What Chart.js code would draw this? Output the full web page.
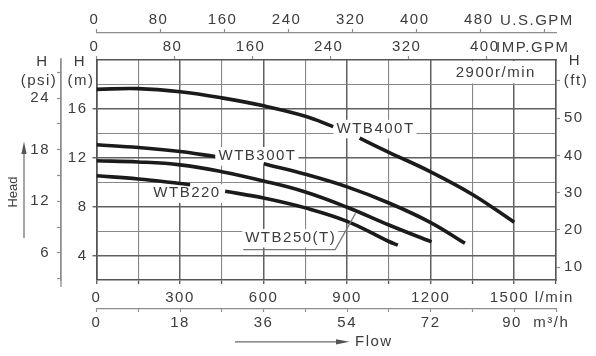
<!DOCTYPE html>
<html>
<head>
<meta charset="utf-8">
<script src="https://cdn.jsdelivr.net/npm/chart.js@4.4.1/dist/chart.umd.min.js"></script>
<style>
html,body{margin:0;padding:0;background:#fff;overflow:hidden;}
canvas{display:block;}
</style>
</head>
<body>
<canvas id="chart" width="596" height="356"></canvas>
<script>
// ---------- data ----------
const wtb400Flow = [0, 150, 300, 450, 600, 750, 850, 900, 945, 1050, 1200, 1350, 1500];
const wtb400Head = [17.6, 17.66, 17.4, 16.9, 16.25, 15.4, 14.55, null, 13.6, 12.45, 10.85, 9.0, 6.73];

const wtb300Flow = [0, 150, 300, 426, 500, 600, 750, 900, 1050, 1200, 1323];
const wtb300Head = [13.06, 12.84, 12.51, 12.1, null, 11.51, 10.65, 9.62, 8.3, 6.7, 5.0];

const wtb250Flow = [0, 150, 300, 450, 600, 750, 900, 1050, 1203];
const wtb250Head = [11.76, 11.66, 11.42, 10.86, 10.1, 9.2, 7.95, 6.5, 5.12];

const wtb220Flow = [0, 150, 300, 336, 400, 462, 600, 750, 900, 1050, 1082];
const wtb220Head = [10.53, 10.27, 9.9, 9.8, null, 9.26, 8.71, 7.9, 6.8, 5.15, 4.85];

const lpmLabels = [0, 300, 600, 900, 1200, 1500];
const m3hLabels = [0, 18, 36, 54, 72, 90];
const usGpmLabels = [0, 80, 160, 240, 320, 400, 480];
const impGpmLabels = [0, 80, 160, 240, 320, 400];
const headMLabels = [4, 8, 12, 16];
const headPsiLabels = [6, 12, 18, 24];
const headFtLabels = [10, 20, 30, 40, 50];

// ---------- annotation anchors (in data units) ----------
const curveLabelAnchors = [
  {text: 'WTB400T', flow: 862, head: 14.37},
  {text: 'WTB300T', flow: 438, head: 12.14},
  {text: 'WTB220', flow: 204, head: 9.09},
  {text: 'WTB250(T)', flow: 534, head: 5.44, underline: true, leaderTo: {flow: 930, head: 7.45}}
];
const rpmAnchor = {text: '2900r/min', flow: 1290, head: 18.98};

// ---------- styles ----------
const FAMILY = '"Liberation Sans", Arial, sans-serif';
const FS = 15;
const SPACING = '1.5px';
const TXT = '#3c3c3c';
const GRID_MINOR = '#878787';
const GRID_MAJOR = '#606060';
const FRAME = '#555555';
const AXIS2 = '#8e8e8e';
const CURVE = '#1b1b1b';
const M_TO_PSI = 1.42233, M_TO_FT = 3.28084;
const FLOW_MAX = 1650, H_MIN = 2, H_MAX = 20;

function pts(fl, hd) { return fl.map((f, i) => ({x: f, y: hd[i]})); }
function lbl(list) { return v => list.includes(v) ? String(v) : ''; }

const spacingPlugin = {
  id: 'spacing',
  beforeInit(c) { c.ctx.letterSpacing = SPACING; },
  beforeLayout(c) { c.ctx.letterSpacing = SPACING; },
  beforeDraw(c) { c.ctx.letterSpacing = SPACING; }
};

const decorPlugin = {
  id: 'decor',
  beforeDatasetsDraw(chart) {
    const {ctx, chartArea: ca, scales: {x, y}} = chart;
    ctx.save();
    ctx.letterSpacing = SPACING;
    ctx.font = FS + 'px ' + FAMILY;
    ctx.fillStyle = '#ffffff';
    for (const a of curveLabelAnchors) {
      const px = x.getPixelForValue(a.flow), py = y.getPixelForValue(a.head);
      const w = ctx.measureText(a.text).width;
      ctx.fillRect(px - 3, py - 9, w + 5, 18.5);
    }
    const rx = x.getPixelForValue(rpmAnchor.flow);
    const yb = y.getPixelForValue(18);
    ctx.fillRect(rx - 22, ca.top + 1, ca.right - 1 - (rx - 22), yb - 1 - (ca.top + 1));
    ctx.restore();
  },
  afterDatasetsDraw(chart) {
    const {ctx, scales: {x, y}} = chart;
    ctx.save();
    ctx.letterSpacing = SPACING;
    ctx.font = FS + 'px ' + FAMILY;
    ctx.fillStyle = TXT;
    ctx.textBaseline = 'middle';
    ctx.textAlign = 'left';
    for (const a of curveLabelAnchors) {
      const px = x.getPixelForValue(a.flow), py = y.getPixelForValue(a.head);
      ctx.fillText(a.text, px, py);
      if (a.underline) {
        const w = ctx.measureText(a.text).width;
        const uy = py + 11.7;
        ctx.strokeStyle = '#7a7a7a';
        ctx.lineWidth = 1.3;
        ctx.beginPath();
        ctx.moveTo(px - 2, uy);
        ctx.lineTo(px + w - 1, uy);
        ctx.lineTo(x.getPixelForValue(a.leaderTo.flow), y.getPixelForValue(a.leaderTo.head));
        ctx.stroke();
      }
    }
    ctx.fillText(rpmAnchor.text, x.getPixelForValue(rpmAnchor.flow), y.getPixelForValue(rpmAnchor.head));
    ctx.restore();
  },
  afterDraw(chart) {
    const {ctx, chartArea: ca, scales} = chart;
    const x = scales.x;
    ctx.save();
    ctx.letterSpacing = SPACING;
    ctx.font = FS + 'px ' + FAMILY;
    ctx.fillStyle = TXT;
    ctx.textBaseline = 'middle';
    // axis titles
    ctx.textAlign = 'center';
    ctx.fillText('H', 80, 61.5);
    ctx.fillText('(m)', 81, 80.5);
    ctx.fillText('H', 42.5, 61.5);
    ctx.fillText('(psi)', 39, 80.5);
    ctx.fillText('H', 575, 61);
    ctx.fillText('(ft)', 576, 80.5);
    ctx.textAlign = 'left';
    ctx.fillText('U.S.GPM', 500, 20.5);
    ctx.fillText('IMP.GPM', 496, 47.5);
    // last bottom labels with units
    const lastL = lpmLabels[lpmLabels.length - 1];
    ctx.fillText(lastL + ' l/min', x.getPixelForValue(lastL) - 24.5, 297.5);
    const xm = scales.xm3;
    const lastM = m3hLabels[m3hLabels.length - 1];
    ctx.fillText(lastM + '  m\u00B3/h', xm.getPixelForValue(lastM) - 12, 323);
    // Flow arrow
    ctx.fillText('Flow', 355, 342);
    ctx.strokeStyle = '#6a6a6a';
    ctx.fillStyle = '#555';
    ctx.lineWidth = 1.2;
    ctx.beginPath(); ctx.moveTo(235, 341.8); ctx.lineTo(340, 341.8); ctx.stroke();
    ctx.beginPath(); ctx.moveTo(349.5, 341.8); ctx.lineTo(336, 339.2); ctx.lineTo(336, 344.4); ctx.closePath(); ctx.fill();
    // Head arrow
    ctx.beginPath(); ctx.moveTo(24, 238); ctx.lineTo(24, 150); ctx.stroke();
    ctx.beginPath(); ctx.moveTo(24, 141.5); ctx.lineTo(21.4, 154); ctx.lineTo(26.6, 154); ctx.closePath(); ctx.fill();
    // psi axis line extension
    ctx.strokeStyle = AXIS2; ctx.lineWidth = 1.3;
    const psx = scales.ypsi.right;
    ctx.beginPath(); ctx.moveTo(psx, ca.top - 2); ctx.lineTo(psx, ca.bottom + 7); ctx.stroke();
    // Head text (rotated)
    ctx.letterSpacing = '0px';
    ctx.fillStyle = TXT;
    ctx.font = '13px ' + FAMILY;
    ctx.translate(13.5, 192);
    ctx.rotate(-Math.PI / 2);
    ctx.textAlign = 'center';
    ctx.fillText('Head', 0, 0);
    ctx.restore();
  }
};

function gridColor(list) { return c => (c.tick && list.includes(c.tick.value)) ? GRID_MAJOR : GRID_MINOR; }
function gridWidth(list) { return c => (c.tick && list.includes(c.tick.value)) ? 1.5 : 1.1; }

const tickFont = {family: FAMILY, size: FS};

new Chart(document.getElementById('chart'), {
  type: 'line',
  data: {
    datasets: [
      {label: 'WTB400T', data: pts(wtb400Flow, wtb400Head)},
      {label: 'WTB300T', data: pts(wtb300Flow, wtb300Head)},
      {label: 'WTB250(T)', data: pts(wtb250Flow, wtb250Head)},
      {label: 'WTB220', data: pts(wtb220Flow, wtb220Head)}
    ].map(d => Object.assign(d, {
      xAxisID: 'x', yAxisID: 'y', borderColor: CURVE, borderWidth: 3.6,
      pointRadius: 0, fill: false, tension: 0.4, spanGaps: false
    }))
  },
  options: {
    responsive: false,
    devicePixelRatio: 1,
    animation: false,
    layout: {padding: 0},
    plugins: {legend: {display: false}, tooltip: {enabled: false}},
    scales: {
      x: {
        type: 'linear', position: 'bottom', weight: 0, min: 0, max: FLOW_MAX,
        ticks: {stepSize: 150, autoSkip: false, maxRotation: 0, padding: 4.5, font: tickFont, color: TXT,
                callback: v => (lpmLabels.includes(v) && v !== lpmLabels[lpmLabels.length - 1]) ? String(v) : ''},
        grid: {color: gridColor(lpmLabels), lineWidth: gridWidth(lpmLabels), drawTicks: true, tickLength: 4, tickColor: FRAME, tickWidth: 1.3},
        border: {color: FRAME, width: 1.6},
        afterFit(s) { s.height = 29; }
      },
      xm3: {
        type: 'linear', position: 'bottom', weight: 1, min: 0, max: FLOW_MAX * 0.06,
        ticks: {stepSize: 9, autoSkip: false, maxRotation: 0, padding: 1.5, font: tickFont, color: TXT,
                callback: v => (m3hLabels.includes(v) && v !== m3hLabels[m3hLabels.length - 1]) ? String(v) : ''},
        grid: {drawOnChartArea: false, drawTicks: true, tickLength: 3, tickColor: AXIS2, tickWidth: 1.2},
        border: {color: AXIS2, width: 1.3},
        afterFit(s) { s.height = 47; }
      },
      ximp: {
        type: 'linear', position: 'top', weight: 0, min: 0, max: 471,
        ticks: {stepSize: 80, includeBounds: false, autoSkip: false, maxRotation: 0, padding: 0, labelOffset: -2,
                font: tickFont, color: TXT, callback: lbl(impGpmLabels)},
        grid: {drawOnChartArea: false, drawTicks: true, tickLength: 4, tickColor: AXIS2, tickWidth: 1.2},
        border: {color: FRAME, width: 1.6},
        afterFit(s) { s.height = 27; }
      },
      xus: {
        type: 'linear', position: 'top', weight: 1, min: 0, max: 574,
        ticks: {stepSize: 80, includeBounds: false, autoSkip: false, maxRotation: 0, padding: 0, labelOffset: -2,
                font: tickFont, color: TXT, callback: lbl(usGpmLabels)},
        grid: {drawOnChartArea: false, drawTicks: true, tickLength: 4, tickColor: AXIS2, tickWidth: 1.2},
        border: {color: AXIS2, width: 1.3},
        afterFit(s) { s.height = 33; }
      },
      y: {
        type: 'linear', position: 'left', weight: 0, min: H_MIN, max: H_MAX,
        ticks: {stepSize: 2, autoSkip: false, padding: 5, font: tickFont, color: TXT, callback: lbl(headMLabels)},
        grid: {color: gridColor(headMLabels), lineWidth: gridWidth(headMLabels), drawTicks: true, tickLength: 4,
               tickColor: c => (c.tick && headMLabels.includes(c.tick.value)) ? FRAME : 'rgba(0,0,0,0)', tickWidth: 1.3},
        border: {color: FRAME, width: 1.6},
        afterFit(s) { s.width = 35.5; }
      },
      ypsi: {
        type: 'linear', position: 'left', weight: 1, min: H_MIN * M_TO_PSI, max: H_MAX * M_TO_PSI,
        ticks: {stepSize: 3, includeBounds: false, autoSkip: false, padding: 7, font: tickFont, color: TXT, callback: lbl(headPsiLabels)},
        grid: {drawOnChartArea: false, drawTicks: true, tickLength: 4, tickColor: AXIS2, tickWidth: 1.2},
        border: {color: AXIS2, width: 1.3},
        afterFit(s) { s.width = 61; }
      },
      yft: {
        type: 'linear', position: 'right', weight: 0, min: H_MIN * M_TO_FT, max: H_MAX * M_TO_FT,
        ticks: {stepSize: 10, includeBounds: false, autoSkip: false, padding: 4, font: tickFont, color: TXT, callback: lbl(headFtLabels)},
        grid: {drawOnChartArea: false, drawTicks: true, tickLength: 4, tickColor: AXIS2, tickWidth: 1.2},
        border: {color: FRAME, width: 1.6},
        afterFit(s) { s.width = 40; }
      }
    }
  },
  plugins: [spacingPlugin, decorPlugin]
});
</script>
</body>
</html>
